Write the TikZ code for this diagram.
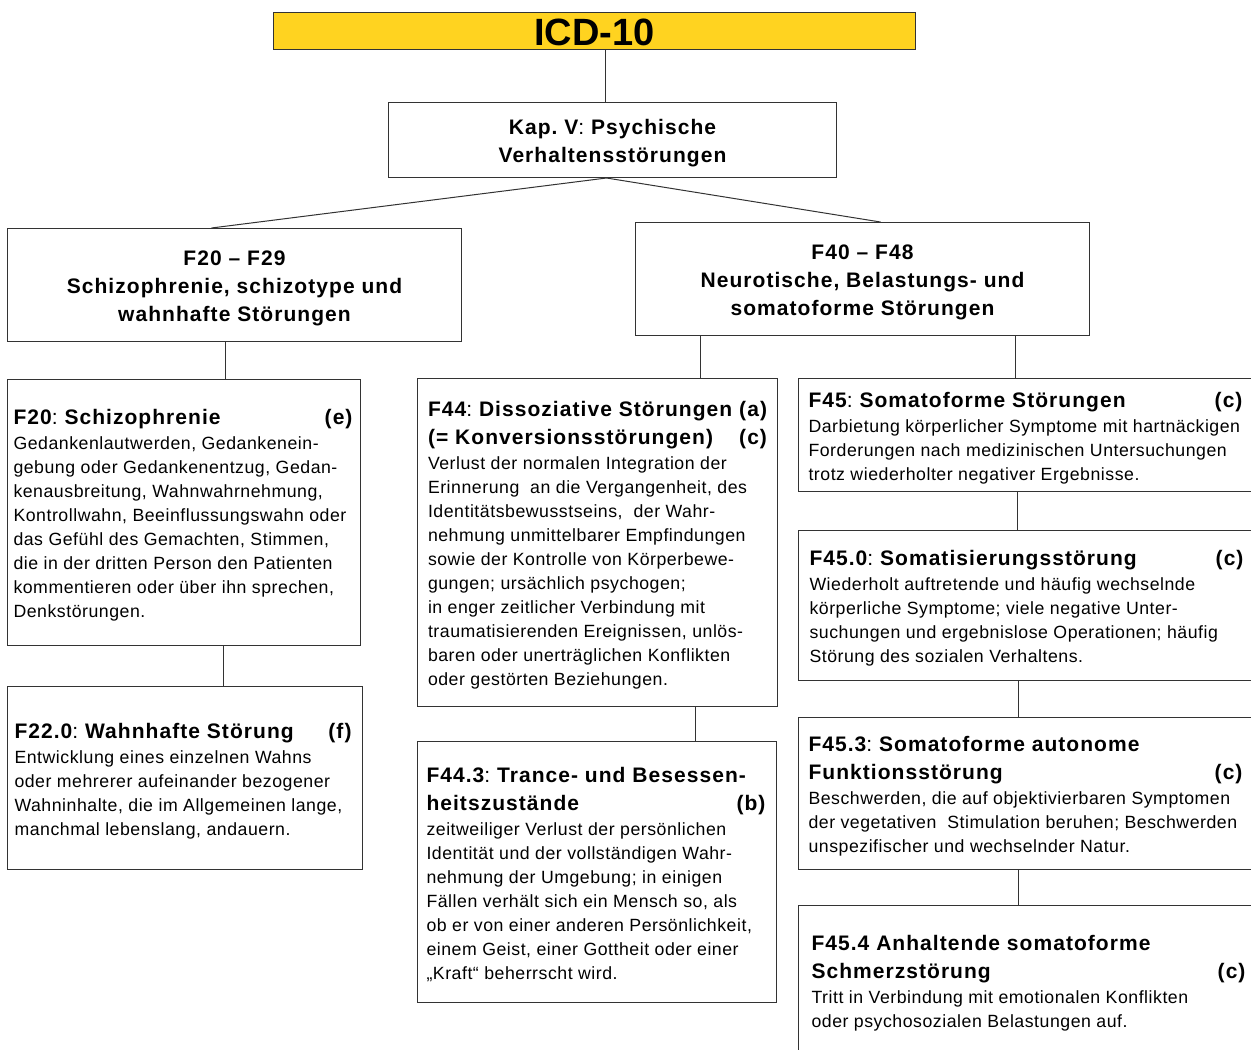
\documentclass[tikz,border=0pt]{standalone}
\usepackage{fontspec}
\setmainfont{Liberation Sans}
\frenchspacing
\definecolor{icdyellow}{HTML}{FFD320}
\definecolor{edge}{HTML}{333333}
\newcommand\ttl{\fontsize{21}{28}\selectfont\bfseries\addfontfeature{LetterSpace=5}\spaceskip=0pt\xspaceskip=0pt\relax}
\newcommand\bdy{\fontsize{17.7}{24}\selectfont\mdseries\addfontfeature{LetterSpace=3}\spaceskip=0pt\xspaceskip=0pt\relax}
\newcommand\rcolon{{\mdseries\addfontfeature{LetterSpace=0}:}}
\begin{document}
\begin{tikzpicture}[x=1pt,y=-1pt,
  frame/.style={draw=edge, line width=1pt, fill=white, inner sep=0pt, anchor=north west},
  txt/.style={inner sep=0pt, align=left, font=\bdy, anchor=center, yshift=-3},
  headtxt/.style={inner sep=0pt, align=center, font=\ttl, anchor=center, yshift=-3},
  conn/.style={draw=edge, line width=1pt}]
\useasboundingbox (0,0) rectangle (1251,1050);
\begin{scope}
\clip (0,0) rectangle (1251,1050);
% frames
\node[frame, fill=icdyellow, minimum width=642, minimum height=37] (icd) at (273,12) {};
\node[frame, minimum width=448, minimum height=75] (kap) at (388,102) {};
\node[frame, minimum width=454, minimum height=113] (f2029) at (7,228) {};
\node[frame, minimum width=454, minimum height=113] (f4048) at (635,222) {};
\node[frame, minimum width=353, minimum height=266] (f20) at (7,379) {};
\node[frame, minimum width=355, minimum height=183] (f22) at (7,686) {};
\node[frame, minimum width=360, minimum height=328] (f44) at (417,378) {};
\node[frame, minimum width=359, minimum height=261] (f443) at (417,741) {};
\node[frame, minimum width=458, minimum height=113] (f45) at (798,378) {};
\node[frame, minimum width=458, minimum height=150] (f450) at (798,530) {};
\node[frame, minimum width=458, minimum height=152] (f453) at (798,717) {};
\node[frame, minimum width=458, minimum height=150] (f454) at (798,905) {};
% heading texts
\node[inner sep=0pt, font=\fontsize{38}{40}\selectfont\bfseries, yshift=-1.5] (icdt) at (icd.center) {ICD-10};
\node[headtxt] (kapt) at (kap.center) {Kap. V\rcolon{} Psychische\\Verhaltensstörungen};
\node[headtxt] (f2029t) at (f2029.center) {F20 – F29\\Schizophrenie, schizotype und\\wahnhafte Störungen};
\node[headtxt] (f4048t) at (f4048.center) {F40 – F48\\Neurotische, Belastungs- und\\somatoforme Störungen};
% box texts
\node[txt, text width=339, xshift=-1] (f20t) at (f20.center) {{\ttl F20\rcolon{} Schizophrenie\hfill(e)\par}\vspace{1pt}{\bdy Gedankenlautwerden, Gedankenein-\\gebung oder Gedankenentzug, Gedan-\\kenausbreitung, Wahnwahrnehmung,\\Kontrollwahn, Beeinflussungswahn oder\\das Gefühl des Gemachten, Stimmen,\\die in der dritten Person den Patienten\\kommentieren oder über ihn sprechen,\\Denkstörungen.\par}};
\node[txt, text width=337, xshift=-2] (f22t) at (f22.center) {{\ttl F22.0\rcolon{} Wahnhafte Störung\hfill(f)\par}\vspace{1pt}{\bdy Entwicklung eines einzelnen Wahns\\oder mehrerer aufeinander bezogener\\Wahninhalte, die im Allgemeinen lange,\\manchmal lebenslang, andauern.\par}};
\node[txt, text width=339] (f44t) at (f44.center) {{\ttl F44\rcolon{} Dissoziative Störungen\hfill(a)\par (= Konversionsstörungen)\hfill(c)\par}\vspace{1pt}{\bdy Verlust der normalen Integration der\\Erinnerung\ \ an die Vergangenheit, des\\Identitätsbewusstseins,\ \ der Wahr-\\nehmung unmittelbarer Empfindungen\\sowie der Kontrolle von Körperbewe-\\gungen; ursächlich psychogen;\\in enger zeitlicher Verbindung mit\\traumatisierenden Ereignissen, unlös-\\baren oder unerträglichen Konflikten\\oder gestörten Beziehungen.\par}};
\node[txt, text width=339, xshift=-1] (f443t) at (f443.center) {{\ttl F44.3\rcolon{} Trance- und Besessen-\par heitszustände\hfill(b)\par}\vspace{1pt}{\bdy zeitweiliger Verlust der persönlichen\\Identität und der vollständigen Wahr-\\nehmung der Umgebung; in einigen\\Fällen verhält sich ein Mensch so, als\\ob er von einer anderen Persönlichkeit,\\einem Geist, einer Gottheit oder einer\\„Kraft“ beherrscht wird.\par}};
\node[txt, text width=434, xshift=-2] (f45t) at (f45.center) {{\ttl F45\rcolon{} Somatoforme Störungen\hfill(c)\par}\vspace{1pt}{\bdy Darbietung körperlicher Symptome mit hartnäckigen\\Forderungen nach medizinischen Untersuchungen\\trotz wiederholter negativer Ergebnisse.\par}};
\node[txt, text width=434, xshift=-1] (f450t) at (f450.center) {{\ttl F45.0\rcolon{} Somatisierungsstörung\hfill(c)\par}\vspace{1pt}{\bdy Wiederholt auftretende und häufig wechselnde\\körperliche Symptome; viele negative Unter-\\suchungen und ergebnislose Operationen; häufig\\Störung des sozialen Verhaltens.\par}};
\node[txt, text width=434, xshift=-2] (f453t) at (f453.center) {{\ttl F45.3\rcolon{} Somatoforme autonome\par Funktionsstörung\hfill(c)\par}\vspace{1pt}{\bdy Beschwerden, die auf objektivierbaren Symptomen\\der vegetativen\ \ Stimulation beruhen; Beschwerden\\unspezifischer und wechselnder Natur.\par}};
\node[txt, text width=434, xshift=1] (f454t) at (f454.center) {{\ttl F45.4 Anhaltende somatoforme\par Schmerzstörung\hfill(c)\par}\vspace{1pt}{\bdy Tritt in Verbindung mit emotionalen Konflikten\\oder psychosozialen Belastungen auf.\par}};
% connectors
\draw[conn] ([xshift=-7]kap.north) -- ([xshift=-7]kap.north |- icd.south);
\draw[conn] ([xshift=-6]kap.south) -- ([xshift=-23]f2029.north);
\draw[conn] ([xshift=-6]kap.south) -- ([xshift=18]f4048.north);
\draw[conn] ([xshift=-9]f2029.south) -- ([xshift=-9]f2029.south |- f20.north);
\draw[conn] ([xshift=39.5]f20.south) -- ([xshift=39.5]f20.south |- f22.north);
\draw[conn] ([xshift=-162]f4048.south) -- ([xshift=-162]f4048.south |- f44.north);
\draw[conn] ([xshift=153]f4048.south) -- ([xshift=153]f4048.south |- f45.north);
\draw[conn] ([xshift=98]f44.south) -- ([xshift=98]f44.south |- f443.north);
\draw[conn] ([xshift=-10]f45.south) -- ([xshift=-10]f45.south |- f450.north);
\draw[conn] ([xshift=-9]f450.south) -- ([xshift=-9]f450.south |- f453.north);
\draw[conn] ([xshift=-9]f453.south) -- ([xshift=-9]f453.south |- f454.north);
\end{scope}
\end{tikzpicture}
\end{document}
